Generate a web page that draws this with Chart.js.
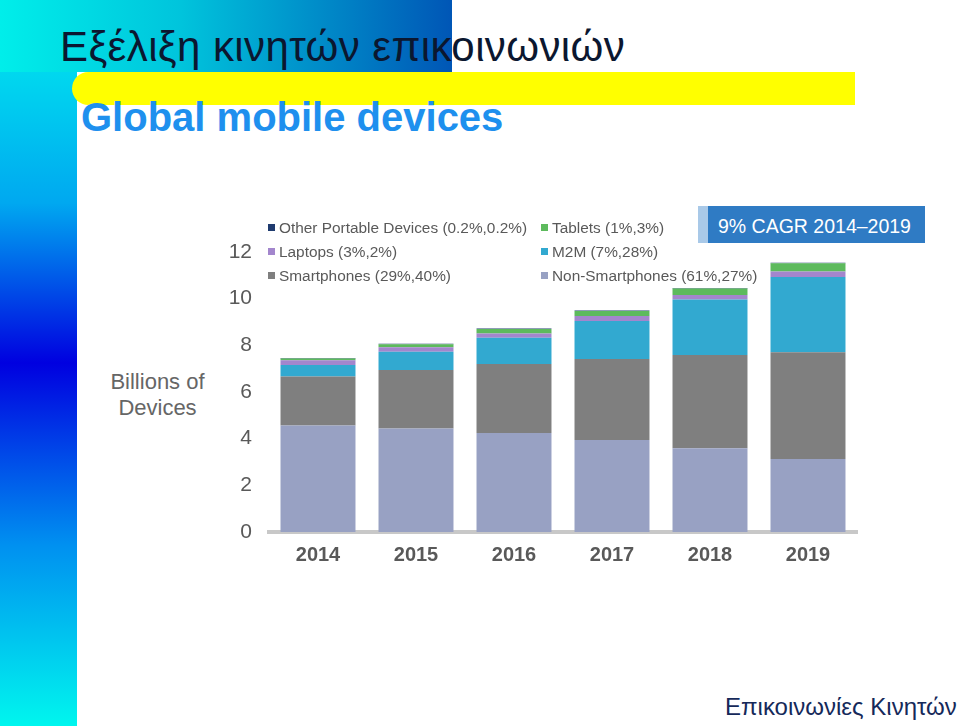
<!DOCTYPE html>
<html>
<head>
<meta charset="utf-8">
<script src="https://cdn.jsdelivr.net/npm/chart.js@4"></script>
<style>
  html, body { margin: 0; padding: 0; background: #fff; }
  #page { position: relative; width: 960px; height: 726px; overflow: hidden; font-family: "Liberation Sans", Arial, sans-serif; }
  #strip { position: absolute; left: 0; top: 0; width: 77px; height: 726px;
    background: linear-gradient(to bottom, #00f2ee 0%, #00a8f0 28%, #0000e0 50%, #0090f0 75%, #00f6ee 100%); }
  #band { position: absolute; left: 0; top: 0; width: 452px; height: 72px;
    background: linear-gradient(to right, #00eeea 0%, #00c4dc 40%, #0056b6 100%); }
  #yellow { position: absolute; left: 72px; top: 72px; width: 783px; height: 33px; background: #ffff00;
    border-radius: 17px 0 0 17px; }
  #title { position: absolute; left: 60px; top: 23px; font-size: 42px; letter-spacing: 0.4px; color: #0b1730; white-space: nowrap; }
  #subtitle { position: absolute; left: 81px; top: 95px; font-size: 40px; font-weight: bold; color: #1e90ee; white-space: nowrap; }
  #footer { position: absolute; left: 725px; top: 693px; font-size: 24px; color: #15295a; white-space: nowrap; }
  #ytitle { position: absolute; left: 100px; top: 369px; width: 115px; text-align: center; font-size: 22px; line-height: 26px; color: #666; }
  #cagr { position: absolute; left: 698px; top: 206px; width: 227px; height: 37px; background: #2f7bc4; }
  #cagr .edge { position: absolute; left: 0; top: 0; width: 10px; height: 37px; background: #a9c9e8; }
  #cagr .txt { position: absolute; left: 20px; top: 9px; font-size: 19.5px; color: #fff; white-space: nowrap; }
  canvas { position: absolute; left: 0; top: 0; }
</style>
</head>
<body>
<div id="page">
  <div id="strip"></div>
  <div id="band"></div>
  <div id="yellow"></div>
  <div id="title">Εξέλιξη κινητών επικοινωνιών</div>
  <div id="subtitle">Global mobile devices</div>
  <div id="ytitle">Billions of<br>Devices</div>
  <div id="cagr"><div class="edge"></div><div class="txt">9% CAGR 2014–2019</div></div>
  <div id="footer">Επικοινωνίες Κινητών</div>
  <canvas id="chart" width="960" height="726"></canvas>
</div>
<script>
const years = ['2014', '2015', '2016', '2017', '2018', '2019']
const yTicks = [0, 2, 4, 6, 8, 10, 12]

// billions of devices
const nonSmartphones = [4.56, 4.44, 4.24, 3.94, 3.59, 3.13]
const smartphones = [2.10, 2.50, 2.96, 3.47, 4.00, 4.57]
const m2m = [0.50, 0.79, 1.13, 1.63, 2.37, 3.23]
const laptops = [0.20, 0.19, 0.18, 0.22, 0.20, 0.23]
const tablets = [0.08, 0.13, 0.19, 0.21, 0.28, 0.36]
const otherPortable = [0.02, 0.02, 0.02, 0.02, 0.02, 0.02]

const seriesLabels = [
  'Non-Smartphones (61%,27%)',
  'Smartphones (29%,40%)',
  'M2M (7%,28%)',
  'Laptops (3%,2%)',
  'Tablets (1%,3%)',
  'Other Portable Devices (0.2%,0.2%)'
]
const seriesColors = ['#98a1c3', '#7f7f7f', '#32a9d0', '#a386cd', '#5dba5d', '#1f3b6f']
const seriesData = [nonSmartphones, smartphones, m2m, laptops, tablets, otherPortable]

// legend: two columns of three, like the original
const legendOrder = [[5, 3, 1], [4, 2, 0]]

const legendPlugin = {
  id: 'sideLegend',
  afterDraw(chart) {
    const ctx = chart.ctx
    const colX = [268, 541]
    const rowY = [228, 252, 276]
    ctx.save()
    ctx.font = '15.4px "Liberation Sans", Arial, sans-serif'
    ctx.textBaseline = 'middle'
    legendOrder.forEach((col, c) => {
      col.forEach((idx, r) => {
        const ds = chart.data.datasets[idx]
        ctx.fillStyle = ds.backgroundColor
        ctx.fillRect(colX[c], rowY[r] - 4, 7, 7)
        ctx.fillStyle = '#595959'
        ctx.fillText(ds.label, colX[c] + 11, rowY[r] + 1)
      })
    })
    ctx.restore()
  }
}

new Chart(document.getElementById('chart'), {
  type: 'bar',
  data: {
    labels: years,
    datasets: seriesData.map((d, i) => ({
      label: seriesLabels[i],
      data: d,
      backgroundColor: seriesColors[i],
      borderWidth: 0,
      categoryPercentage: 1,
      barPercentage: 0.765
    }))
  },
  options: {
    responsive: false,
    animation: false,
    layout: { padding: { left: 0, top: 252, right: 103, bottom: 154 } },
    plugins: {
      legend: { display: false },
      tooltip: { enabled: false }
    },
    scales: {
      x: {
        stacked: true,
        grid: { display: false, drawTicks: false },
        border: { display: true, color: '#c8c8c8', width: 4 },
        ticks: {
          padding: 11,
          color: '#595959',
          font: { family: '"Liberation Sans", Arial, sans-serif', size: 20, weight: 'bold' }
        },
        afterFit: s => { s.height = 40 }
      },
      y: {
        stacked: true,
        min: 0,
        max: 12,
        grid: { display: false, drawTicks: false },
        border: { display: false },
        afterBuildTicks: s => { s.ticks = yTicks.map(v => ({ value: v })) },
        ticks: {
          padding: 17,
          color: '#595959',
          font: { family: '"Liberation Sans", Arial, sans-serif', size: 21 }
        },
        afterFit: s => { s.width = 269 }
      }
    }
  },
  plugins: [legendPlugin]
})
</script>
</body>
</html>
